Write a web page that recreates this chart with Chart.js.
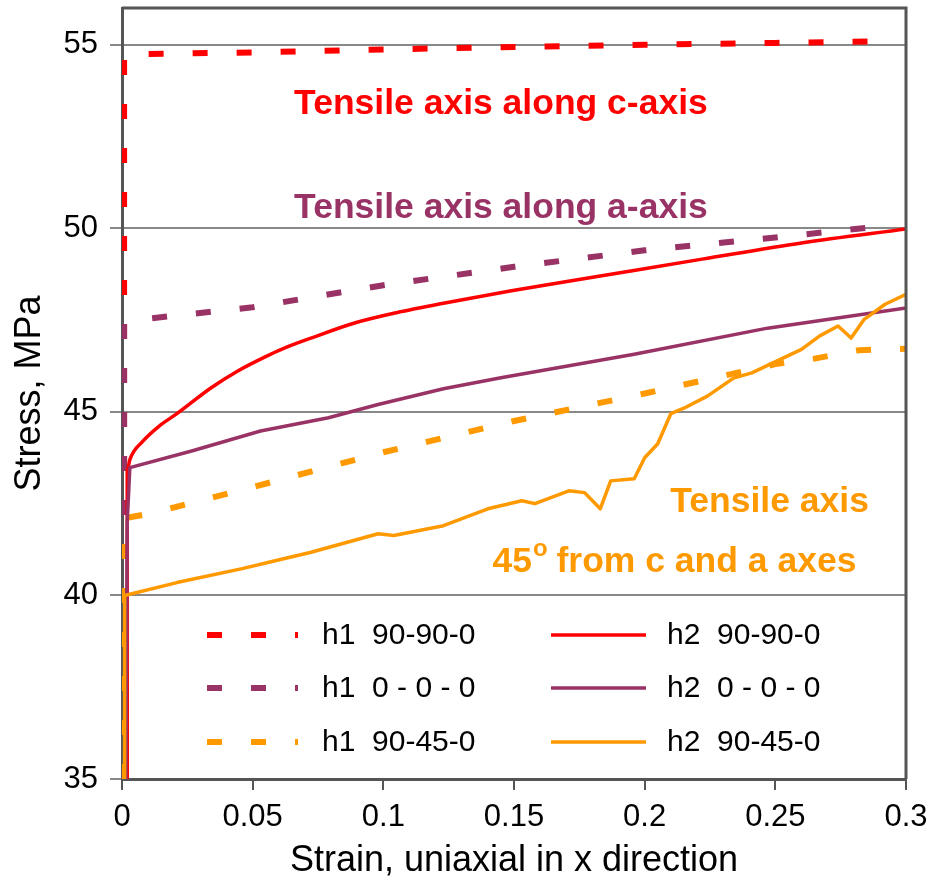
<!DOCTYPE html>
<html><head><meta charset="utf-8">
<script src="https://cdn.jsdelivr.net/npm/chart.js@4/dist/chart.umd.min.js"></script>
<style>html,body{margin:0;padding:0;background:#fff;}#wrap{width:932px;height:883px;}</style>
</head><body><div id="wrap"><canvas id="c" width="932" height="883"></canvas></div>
<script>
// ---- data ----
const xTickLabels = ['0','0.05','0.1','0.15','0.2','0.25','0.3'];
const yTickLabels = ['35','40','45','50','55'];
const seriesNames = ['h1  90-90-0','h1  0 - 0 - 0','h1  90-45-0','h2  90-90-0','h2  0 - 0 - 0','h2  90-45-0'];

const h1_90_90_0_x = [0.0008, 0.0008, 0.003, 0.05, 0.1, 0.15, 0.2, 0.25, 0.29];
const h1_90_90_0_y = [35, 54.7, 54.74, 54.79, 54.87, 54.94, 55.0, 55.05, 55.09];

const h1_0_0_0_x = [0.0008, 0.0008, 0.005, 0.05, 0.1, 0.15, 0.2, 0.25, 0.29];
const h1_0_0_0_y = [35, 47.4, 47.5, 47.85, 48.45, 48.95, 49.4, 49.75, 50.05];

const h1_90_45_0_x = [0.0008, 0.0008, 0.012, 0.05, 0.1, 0.15, 0.2, 0.25, 0.265, 0.282, 0.3];
const h1_90_45_0_y = [35, 42.1, 42.25, 42.95, 43.9, 44.75, 45.5, 46.3, 46.45, 46.68, 46.72];

const h2_90_90_0_x = [0.002, 0.002, 0.003, 0.008, 0.014, 0.021, 0.034, 0.044, 0.054, 0.063, 0.072, 0.089, 0.105, 0.123, 0.149, 0.183, 0.222, 0.26, 0.3];
const h2_90_90_0_y = [35, 43.4, 43.7, 44.2, 44.6, 44.95, 45.65, 46.1, 46.47, 46.76, 47.0, 47.42, 47.7, 47.96, 48.3, 48.7, 49.16, 49.6, 49.98];

const h2_0_0_0_x = [0.0015, 0.002, 0.003, 0.027, 0.053, 0.079, 0.098, 0.123, 0.145, 0.196, 0.247, 0.3];
const h2_0_0_0_y = [35, 42, 43.48, 43.94, 44.48, 44.84, 45.2, 45.63, 45.93, 46.57, 47.28, 47.83];

const h2_90_45_0_x = [0.001, 0.001, 0.021, 0.046, 0.059, 0.072, 0.098, 0.104, 0.123, 0.14, 0.153, 0.158, 0.171, 0.177, 0.183, 0.187, 0.196, 0.2, 0.205, 0.21, 0.215, 0.224, 0.234, 0.241, 0.26, 0.267, 0.274, 0.279, 0.284, 0.292, 0.3];
const h2_90_45_0_y = [35, 40.0, 40.35, 40.73, 40.95, 41.17, 41.68, 41.63, 41.9, 42.36, 42.58, 42.5, 42.85, 42.8, 42.36, 43.12, 43.18, 43.75, 44.13, 44.95, 45.1, 45.43, 45.92, 46.06, 46.7, 47.07, 47.34, 47.01, 47.52, 47.93, 48.2];

const annotations = [
  {text: 'Tensile axis along c-axis', x: 0.145, y: 53.37, color: '#FF0000'},
  {text: 'Tensile axis along a-axis', x: 0.145, y: 50.55, color: '#993366'},
  {text: 'Tensile axis', x: 0.2478, y: 42.55, color: '#FF9900'},
  {text: '45|o| from c and a axes', x: 0.2114, y: 40.9, color: '#FF9900'}
];

// ---- build ----
const FONT = "'Liberation Sans', Arial, Helvetica, sans-serif";
const RED = '#FF0000', PLUM = '#993366', ORANGE = '#FF9900';
function pts(xs, ys){ return xs.map((x,i)=>({x:x, y:ys[i]})); }
const DASH = [15, 29];
const datasets = [
  {label: seriesNames[0], data: pts(h1_90_90_0_x, h1_90_90_0_y), borderColor: RED, borderWidth: 6, borderDash: DASH, order: 6},
  {label: seriesNames[1], data: pts(h1_0_0_0_x, h1_0_0_0_y), borderColor: PLUM, borderWidth: 6, borderDash: DASH, order: 5},
  {label: seriesNames[2], data: pts(h1_90_45_0_x, h1_90_45_0_y), borderColor: ORANGE, borderWidth: 6, borderDash: DASH, order: 4},
  {label: seriesNames[3], data: pts(h2_90_90_0_x, h2_90_90_0_y), borderColor: RED, borderWidth: 3.5, order: 3, cubicInterpolationMode: 'monotone'},
  {label: seriesNames[4], data: pts(h2_0_0_0_x, h2_0_0_0_y), borderColor: PLUM, borderWidth: 3.5, order: 2},
  {label: seriesNames[5], data: pts(h2_90_45_0_x, h2_90_45_0_y), borderColor: ORANGE, borderWidth: 3.5, order: 1}
];
datasets.forEach(d => { d.pointRadius = 0; d.fill = false; d.borderCapStyle = 'butt'; d.borderJoinStyle = 'round'; });

const framePlugin = {
  id: 'frame',
  afterDatasetsDraw(chart){
    const {ctx, chartArea: a} = chart;
    ctx.save();
    ctx.strokeStyle = '#555';
    ctx.lineWidth = 3;
    ctx.beginPath();
    ctx.moveTo(a.left, a.top); ctx.lineTo(a.right, a.top); ctx.lineTo(a.right, a.bottom);
    ctx.stroke();
    ctx.restore();
  }
};

const annoPlugin = {
  id: 'anno',
  afterDatasetsDraw(chart){
    const {ctx, scales} = chart;
    ctx.save();
    ctx.textBaseline = 'middle';
    annotations.forEach(an => {
      const cx = scales.x.getPixelForValue(an.x), cy = scales.y.getPixelForValue(an.y);
      ctx.fillStyle = an.color;
      const parts = an.text.split('|');
      const big = "bold 35.5px " + FONT, small = "bold 24px " + FONT;
      if (parts.length === 1) {
        ctx.font = big; ctx.textAlign = 'center'; ctx.fillText(an.text, cx, cy);
      } else {
        ctx.font = big; const w0 = ctx.measureText(parts[0]).width, w2 = ctx.measureText(parts[2]).width;
        ctx.font = small; const w1 = ctx.measureText(parts[1]).width;
        let x = cx - (w0 + w1 + w2) / 2;
        ctx.textAlign = 'left';
        ctx.font = big; ctx.fillText(parts[0], x, cy); x += w0;
        ctx.font = small; ctx.fillText(parts[1], x + 1, cy - 13); x += w1;
        ctx.font = big; ctx.fillText(parts[2], x, cy);
      }
    });
    ctx.restore();
  }
};

const legendPlugin = {
  id: 'inlegend',
  afterDatasetsDraw(chart){
    const {ctx, chartArea: a} = chart;
    const ds = chart.data.datasets;
    ctx.save();
    ctx.font = "30px " + FONT;
    ctx.textBaseline = 'middle';
    ctx.textAlign = 'left';
    const rows = [a.bottom - 144, a.bottom - 91, a.bottom - 37];
    ds.forEach((d, i) => {
      const col = i < 3 ? 0 : 1, row = i % 3;
      const sx = a.left + (col === 0 ? 85 : 429), sw = col === 0 ? 91 : 95;
      const tx = a.left + (col === 0 ? 200 : 545);
      const y = rows[row];
      ctx.strokeStyle = d.borderColor;
      ctx.lineWidth = d.borderWidth;
      ctx.lineCap = 'butt';
      ctx.setLineDash(d.borderDash || []);
      ctx.beginPath(); ctx.moveTo(sx, y); ctx.lineTo(sx + sw, y); ctx.stroke();
      ctx.setLineDash([]);
      ctx.fillStyle = '#000';
      ctx.fillText(d.label, tx, y + 1);
    });
    ctx.restore();
  }
};

new Chart(document.getElementById('c'), {
  type: 'line',
  data: {datasets},
  options: {
    responsive: false, animation: false, devicePixelRatio: 1,
    layout: {padding: {left: 0, right: 26, top: 8, bottom: 0}},
    plugins: {legend: {display: false}, tooltip: {enabled: false}},
    scales: {
      x: {
        type: 'linear', min: 0, max: 0.3,
        afterFit(s){ s.height = 104; s.paddingLeft = 0; s.paddingRight = 0; },
        ticks: {stepSize: 0.05, color: '#000', font: {family: FONT, size: 31}, padding: 9, maxRotation: 0,
          callback: (v, i) => xTickLabels[i]},
        grid: {drawOnChartArea: false, drawTicks: true, tickLength: 11, color: '#555', lineWidth: 2},
        border: {display: true, color: '#555', width: 3},
        title: {display: true, text: 'Strain, uniaxial in x direction', color: '#000', font: {family: FONT, size: 36}, padding: {top: 0, bottom: 0}}
      },
      y: {
        type: 'linear', min: 35, max: 56,
        afterFit(s){ s.width = 122; s.paddingTop = 0; s.paddingBottom = 0; },
        ticks: {stepSize: 5, includeBounds: false, color: '#000', font: {family: FONT, size: 31}, padding: 12,
          callback: (v, i) => yTickLabels[i]},
        grid: {color: '#888', lineWidth: 2, tickLength: 12, drawTicks: true},
        border: {display: true, color: '#555', width: 3},
        title: {display: true, text: 'Stress, MPa', color: '#000', font: {family: FONT, size: 36}, padding: {top: 8, bottom: 4}}
      }
    }
  },
  plugins: [framePlugin, annoPlugin, legendPlugin]
});
</script></body></html>
